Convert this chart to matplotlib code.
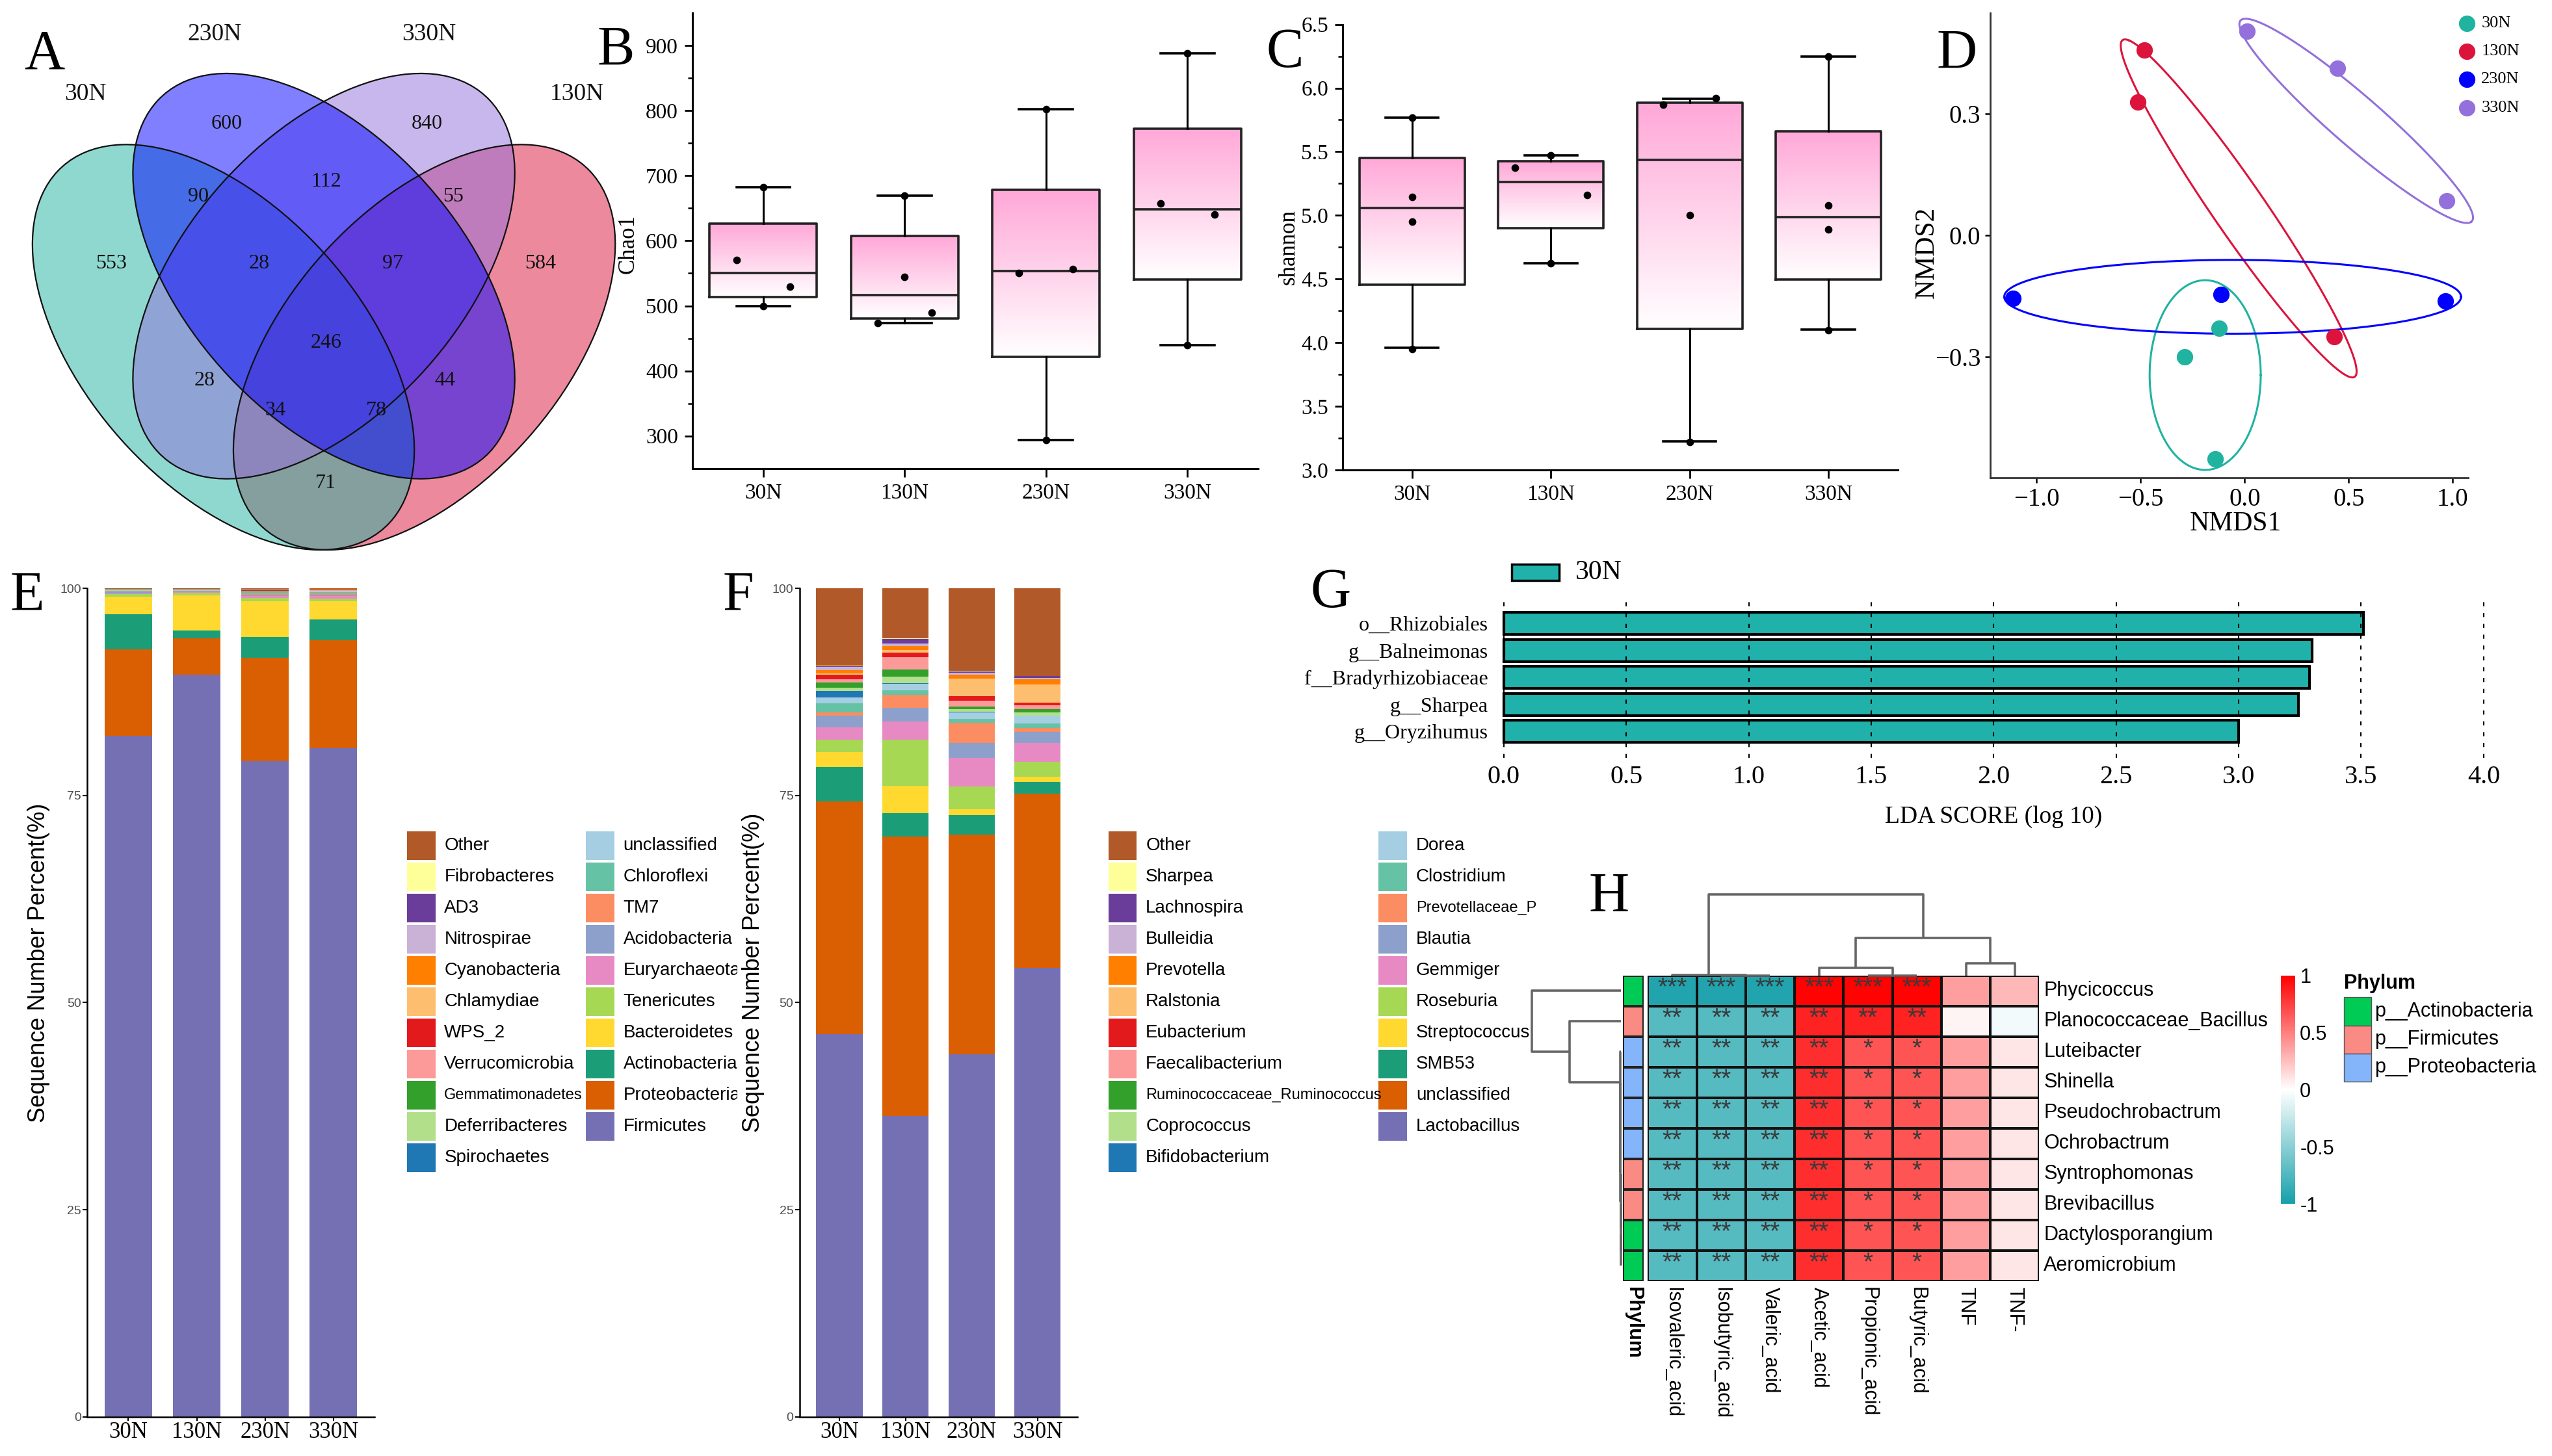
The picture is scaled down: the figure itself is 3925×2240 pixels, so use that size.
import numpy as np
import matplotlib
matplotlib.use("Agg")
import matplotlib.pyplot as plt
from matplotlib import font_manager
from matplotlib.patches import Ellipse, Rectangle
from matplotlib.colors import LinearSegmentedColormap, ListedColormap
from matplotlib.transforms import Bbox, TransformedBbox

SERIF = ["Liberation Serif", "DejaVu Serif"]
SANS = ["Liberation Sans", "DejaVu Sans"]
installed = {f.name for f in font_manager.fontManager.ttflist}
if "Liberation Sans Narrow" in installed:
    NARROW, NARROW_SIZE = ["Liberation Sans Narrow", "Liberation Sans"], 25
else:
    NARROW, NARROW_SIZE = SANS, 22
plt.rcParams["font.family"] = SERIF

# ---------------- data ----------------
groups = ["30N", "130N", "230N", "330N"]
group_colors = ["#1FB3A0", "#DC143C", "#0000FF", "#9370DB"]

# A: Venn (region counts)
venn_sets = ["30N", "230N", "330N", "130N"]
venn_counts = [553, 600, 840, 584, 90, 112, 55, 28, 97, 246, 28, 44, 34, 78, 71]

# B: Chao1 box statistics and samples
chao1_lo = [500, 474, 294, 440]
chao1_q1 = [514, 481, 422, 540]
chao1_med = [550, 517, 553, 648]
chao1_q3 = [626, 607, 678, 772]
chao1_hi = [682, 669, 802, 888]
chao1_pts = [[682, 570, 529, 500], [669, 544, 490, 474],
             [802, 550, 556, 294], [888, 657, 640, 440]]
chao1_jit = [[0, -0.19, 0.19, 0], [0, 0, 0.19, -0.19],
             [0, -0.19, 0.19, 0], [0, -0.19, 0.19, 0]]

# C: Shannon
sh_lo = [3.96, 4.625, 3.228, 4.103]
sh_q1 = [4.456, 4.90, 4.11, 4.495]
sh_med = [5.056, 5.265, 5.435, 4.986]
sh_q3 = [5.453, 5.424, 5.886, 5.662]
sh_hi = [5.766, 5.474, 5.918, 6.25]
sh_pts = [[5.77, 5.145, 4.95, 3.95], [5.47, 5.375, 5.158, 4.625],
          [5.87, 5.92, 5.00, 3.22], [6.25, 5.08, 4.89, 4.10]]
sh_jit = [[0, 0, 0, 0], [0, -0.26, 0.26, 0],
          [-0.19, 0.19, 0, 0], [0, 0, 0, 0]]

# D: NMDS
nmds_x = [[-0.122, -0.288, -0.142], [-0.482, -0.513, 0.431],
          [-1.114, -0.115, 0.966], [0.010, 0.447, 0.972]]
nmds_y = [[-0.229, -0.300, -0.551], [0.456, 0.328, -0.251],
          [-0.155, -0.146, -0.162], [0.503, 0.412, 0.085]]
ell_center = [(-0.190, -0.345), (-0.029, 0.066), (-0.058, -0.152), (0.536, 0.282)]
ell_u = [(0.267, 0.0), (-0.525, 0.414), (1.098, 0.0), (0.553, -0.249)]
ell_v = [(0.0, 0.234), (0.214, -0.049), (0.0, 0.091), (0.098, 0.038)]

# E / F: stacked composition, listed bottom-up
stack_colors = ["#7570B3", "#D95F02", "#1B9E77", "#FFD92F", "#A6D854", "#E78AC3",
                "#8DA0CB", "#FC8D62", "#66C2A5", "#A6CEE3", "#1F78B4", "#B2DF8A",
                "#33A02C", "#FB9A99", "#E31A1C", "#FDBF6F", "#FF7F00", "#CAB2D6",
                "#6A3D9A", "#FFFF99", "#B15928"]
phylum_names = ["Firmicutes", "Proteobacteria", "Actinobacteria", "Bacteroidetes",
                "Tenericutes", "Euryarchaeota", "Acidobacteria", "TM7", "Chloroflexi",
                "unclassified", "Spirochaetes", "Deferribacteres", "Gemmatimonadetes",
                "Verrucomicrobia", "WPS_2", "Chlamydiae", "Cyanobacteria", "Nitrospirae",
                "AD3", "Fibrobacteres", "Other"]
phylum_30N = [82.2, 10.4, 4.3, 2.1, 0.30, 0.10, 0.10, 0.08, 0.08, 0.10, 0.02,
              0.02, 0.02, 0.02, 0.01, 0.01, 0.02, 0.01, 0.01, 0.01, 0.09]
phylum_130N = [89.6, 4.35, 0.95, 4.2, 0.35, 0.08, 0.08, 0.05, 0.05, 0.08, 0.02,
               0.02, 0.02, 0.02, 0.01, 0.01, 0.01, 0.01, 0.01, 0.01, 0.07]
phylum_230N = [79.1, 12.5, 2.5, 4.3, 0.40, 0.25, 0.20, 0.15, 0.10, 0.10, 0.02,
               0.02, 0.05, 0.03, 0.02, 0.03, 0.03, 0.02, 0.02, 0.01, 0.15]
phylum_330N = [80.7, 13.0, 2.5, 2.2, 0.35, 0.30, 0.20, 0.15, 0.10, 0.15, 0.02,
               0.02, 0.03, 0.03, 0.02, 0.02, 0.02, 0.02, 0.02, 0.01, 0.14]

genus_names = ["Lactobacillus", "unclassified", "SMB53", "Streptococcus", "Roseburia",
               "Gemmiger", "Blautia", "Prevotellaceae_P", "Clostridium", "Dorea",
               "Bifidobacterium", "Coprococcus", "Ruminococcaceae_Ruminococcus",
               "Faecalibacterium", "Eubacterium", "Ralstonia", "Prevotella", "Bulleidia",
               "Lachnospira", "Sharpea", "Other"]
genus_30N = [46.2, 28.1, 4.1, 1.85, 1.5, 1.5, 1.4, 0.4, 1.1, 0.7, 0.75,
             0.4, 0.6, 0.4, 0.6, 0.1, 0.45, 0.35, 0.1, 0.05, 9.35]
genus_130N = [36.3, 33.7, 2.9, 3.25, 5.6, 2.15, 1.7, 1.5, 0.6, 0.8, 0.05,
              0.8, 0.85, 1.5, 0.5, 0.35, 0.45, 0.3, 0.55, 0.1, 6.05]
genus_230N = [43.8, 26.5, 2.3, 0.75, 2.75, 3.4, 1.8, 2.5, 0.45, 0.8, 0.05,
              0.3, 0.35, 0.65, 0.6, 2.1, 0.45, 0.25, 0.2, 0.05, 9.95]
genus_330N = [54.2, 21.0, 1.45, 0.6, 1.8, 2.3, 1.35, 0.4, 0.6, 0.9, 0.05,
              0.35, 0.4, 0.45, 0.35, 2.2, 0.6, 0.2, 0.2, 0.05, 10.55]

# G: LEfSe
lda_features = ["o__Rhizobiales", "g__Balneimonas", "f__Bradyrhizobiaceae",
                "g__Sharpea", "g__Oryzihumus"]
lda_scores = [3.51, 3.30, 3.29, 3.245, 3.00]

# H: correlation heatmap
heat_rows = ["Phycicoccus", "Planococcaceae_Bacillus", "Luteibacter", "Shinella",
             "Pseudochrobactrum", "Ochrobactrum", "Syntrophomonas", "Brevibacillus",
             "Dactylosporangium", "Aeromicrobium"]
heat_cols = ["Isovaleric_acid", "Isobutyric_acid", "Valeric_acid", "Acetic_acid",
             "Propionic_acid", "Butyric_acid", "TNF", "TNF-"]
heat_vals = [[-0.95, -0.95, -0.95, 0.99, 0.99, 0.99, 0.38, 0.28],
             [-0.72, -0.72, -0.72, 0.86, 0.86, 0.86, 0.04, -0.05]] + \
            [[-0.72, -0.72, -0.72, 0.82, 0.67, 0.67, 0.38, 0.10]] * 8
heat_stars = [["***"] * 6 + ["", ""], ["**"] * 6 + ["", ""]] + \
             [["**"] * 4 + ["*", "*", "", ""]] * 8
row_phylum = ["p__Actinobacteria", "p__Firmicutes"] + ["p__Proteobacteria"] * 4 + \
             ["p__Firmicutes"] * 2 + ["p__Actinobacteria"] * 2
phylum_levels = ["p__Actinobacteria", "p__Firmicutes", "p__Proteobacteria"]
phylum_colors = ["#00CC55", "#FA8A84", "#84B4FA"]
# (child a, child b, height); leaves first, new nodes numbered after
col_merges = [(1, 2, 0.5), (0, 8, 1.0), (4, 5, 0.5), (3, 10, 20),
              (6, 7, 33), (11, 12, 100), (9, 13, 215)]
row_merges = [(8, 9, 0.5), (7, 10, 1.0), (6, 11, 1.5), (5, 12, 2.0), (4, 13, 2.5),
              (3, 14, 3.0), (2, 15, 3.5), (1, 16, 215), (0, 17, 373)]

# ---------------- layout helpers ----------------
fig = plt.figure(figsize=(39.25, 22.4), dpi=100)
W, H = 1568.0, 895.0


def box(x0, y0, x1, y1):
    return [x0 / W, 1 - y1 / H, (x1 - x0) / W, (y1 - y0) / H]


def style_spines(ax, lw=2.2, color="black"):
    ax.spines[["top", "right"]].set_visible(False)
    for s in ["left", "bottom"]:
        ax.spines[s].set_linewidth(lw)
        ax.spines[s].set_color(color)


# ---------------- A: Venn ----------------
ax = fig.add_axes(box(15, 15, 385, 345))
ax.set_xlim(0.053, 0.952)
ax.set_ylim(0.169, 0.924)
ax.axis("off")
venn_shape = {"30N": (0.35, 0.47, -45), "230N": (0.50, 0.57, -45),
              "330N": (0.50, 0.57, 45), "130N": (0.65, 0.47, 45)}
venn_col = dict(zip(groups, group_colors))
for s in ["130N", "30N", "330N", "230N"]:
    cx, cy, ang = venn_shape[s]
    ax.add_patch(Ellipse((cx, cy), 0.70, 0.40, angle=ang, facecolor=venn_col[s],
                         alpha=0.5, edgecolor="none"))
for s in venn_sets:
    cx, cy, ang = venn_shape[s]
    ax.add_patch(Ellipse((cx, cy), 0.70, 0.40, angle=ang, facecolor="none",
                         edgecolor="#111111", lw=1.6))
venn_label_xy = [(0.183, 0.588), (0.355, 0.784), (0.654, 0.784), (0.823, 0.588),
                 (0.313, 0.682), (0.503, 0.703), (0.693, 0.682), (0.403, 0.588),
                 (0.603, 0.588), (0.503, 0.476), (0.322, 0.423), (0.681, 0.423),
                 (0.428, 0.381), (0.578, 0.381), (0.503, 0.279)]
for n, (x, y) in zip(venn_counts, venn_label_xy):
    ax.text(x, y, str(n), ha="center", va="center", fontsize=23, color="#111111")
venn_set_xy = [(0.144, 0.826), (0.337, 0.910), (0.657, 0.910), (0.878, 0.826)]
for s, (x, y) in zip(venn_sets, venn_set_xy):
    ax.text(x, y, s, ha="center", va="center", fontsize=27, color="#111111")

# ---------------- B / C: box plots ----------------
pink = LinearSegmentedColormap.from_list("pk", ["#FFFFFF", "#FFA8D8"])
grad = np.linspace(0, 1, 256).reshape(-1, 1)


def box_panel(ax, lo, q1, med, q3, hi, pts, jit):
    stats = [dict(whislo=a, q1=b, med=c, q3=d, whishi=e)
             for a, b, c, d, e in zip(lo, q1, med, q3, hi)]
    ax.bxp(stats, positions=range(4), widths=0.76, capwidths=0.38,
           showfliers=False, manage_ticks=False,
           boxprops=dict(color="#222222", lw=2.6),
           medianprops=dict(color="#222222", lw=2.6),
           whiskerprops=dict(color="black", lw=2.2),
           capprops=dict(color="black", lw=2.6))
    for i in range(4):
        ax.imshow(grad, extent=(i - 0.38, i + 0.38, q1[i], q3[i]), origin="lower",
                  cmap=pink, aspect="auto", zorder=1)
        ax.scatter(np.array(jit[i]) + i, pts[i], s=55, color="black", zorder=4)
    ax.set_xlim(-0.5, 3.5)
    ax.set_xticks(range(4))
    ax.set_xticklabels(groups)
    style_spines(ax)
    ax.tick_params(which="major", direction="out", length=9, width=2,
                   labelsize=24, pad=7)
    ax.tick_params(which="minor", direction="out", length=5, width=1.8)


ax = fig.add_axes(box(425.5, 8, 773, 288))
box_panel(ax, chao1_lo, chao1_q1, chao1_med, chao1_q3, chao1_hi, chao1_pts, chao1_jit)
ax.set_ylim(250, 950)
ax.set_yticks(np.arange(300, 901, 100))
ax.set_yticks(np.arange(350, 900, 100), minor=True)

ax = fig.add_axes(box(825, 15, 1166, 289))
box_panel(ax, sh_lo, sh_q1, sh_med, sh_q3, sh_hi, sh_pts, sh_jit)
ax.set_ylim(3.0, 6.5)
yt = np.arange(3.0, 6.51, 0.5)
ax.set_yticks(yt)
ax.set_yticklabels([f"{v:.1f}" for v in yt])
ax.set_yticks(np.arange(3.25, 6.5, 0.5), minor=True)

# ---------------- D: NMDS ----------------
ax = fig.add_axes(box(1223, 8, 1516.6, 293.6))
t = np.linspace(0, 2 * np.pi, 400)
for k, col in enumerate(group_colors):
    c, u, v = ell_center[k], ell_u[k], ell_v[k]
    ax.plot(c[0] + u[0] * np.cos(t) + v[0] * np.sin(t),
            c[1] + u[1] * np.cos(t) + v[1] * np.sin(t), color=col, lw=2.2, zorder=2,
            clip_on=False)
    ax.scatter(nmds_x[k], nmds_y[k], s=330, color=col, linewidths=0, zorder=3)
ax.set_xlim(-1.222, 1.075)
ax.set_ylim(-0.598, 0.548)
xt = [-1.0, -0.5, 0.0, 0.5, 1.0]
ytd = [-0.3, 0.0, 0.3]
ax.set_xticks(xt)
ax.set_xticklabels([f"{v:.1f}".replace("-", "\u2212") for v in xt])
ax.set_yticks(ytd)
ax.set_yticklabels([f"{v:.1f}".replace("-", "\u2212") for v in ytd])
style_spines(ax, lw=2.0, color="#333333")
ax.tick_params(direction="out", length=6, width=1.8, labelsize=28, pad=5)

# ---------------- E / F: stacked bars ----------------


def stack_panel(ax, names, series):
    bottom = np.zeros(4)
    for k in range(len(names)):
        vals = np.array([s[k] for s in series])
        ax.bar(range(4), vals, 0.7, bottom=bottom, color=stack_colors[k], lw=0)
        bottom += vals
    ax.set_xlim(-0.6, 3.6)
    ax.set_ylim(0, 100)
    ax.set_yticks([0, 25, 50, 75, 100])
    ax.set_xticks(range(4))
    ax.set_xticklabels(groups, fontsize=25, family=SERIF)
    style_spines(ax, lw=1.8)
    ax.tick_params(axis="y", direction="out", length=5, width=1.5, labelsize=14,
                   labelcolor="#4D4D4D", pad=2)
    ax.tick_params(axis="x", direction="out", length=4, width=1.5, pad=1)
    for lab in ax.get_yticklabels():
        lab.set_family(SANS)


ax = fig.add_axes(box(53.7, 361.6, 230, 871))
stack_panel(ax, phylum_names, [phylum_30N, phylum_130N, phylum_230N, phylum_330N])
ax = fig.add_axes(box(491.4, 361.6, 661.9, 871))
stack_panel(ax, genus_names, [genus_30N, genus_130N, genus_230N, genus_330N])

# ---------------- G: LDA ----------------
ax = fig.add_axes(box(920, 369, 1530, 466))
ax.barh(range(5), lda_scores, height=0.82, color="#20B2AA", edgecolor="black",
        lw=3, zorder=2)
ax.set_xlim(-0.0266, 4.0266)
ax.set_ylim(4.99, -0.855)
gx = np.arange(0, 4.01, 0.5)
ax.set_xticks(gx)
ax.set_xticklabels([f"{v:.1f}" for v in gx])
ax.set_yticks(range(5))
ax.set_yticklabels(lda_features)
ax.tick_params(axis="x", length=0, labelsize=29, pad=8)
ax.tick_params(axis="y", length=0, labelsize=23, pad=10)
ax.grid(axis="x", color="black", linestyle=(0, (3, 5)), lw=1.5)
ax.set_axisbelow(False)
for sp in ax.spines.values():
    sp.set_visible(False)

# ---------------- H: heatmap ----------------
heat_cmap = LinearSegmentedColormap.from_list("tw", ["#16A0AA", "#FFFFFF", "#FF0000"])
axh = fig.add_axes(box(1012.4, 599.7, 1253, 787.5))
mesh = axh.pcolormesh(np.arange(9), np.arange(11), np.array(heat_vals), cmap=heat_cmap,
                      vmin=-1, vmax=1, edgecolors="#111111", linewidth=1.6)
axh.set_xlim(0, 8)
axh.set_ylim(10, 0)
axh.axis("off")
for i in range(10):
    for j in range(8):
        if heat_stars[i][j]:
            axh.text(j + 0.5, i + 0.42, heat_stars[i][j], ha="center", va="center",
                     fontsize=28, color="#3A3A3A", family=SANS)
    axh.text(8.09, i + 0.5, heat_rows[i], ha="left", va="center",
             fontsize=NARROW_SIZE, family=NARROW, clip_on=False)
for j in range(8):
    axh.text(j + 0.5, 10.19, heat_cols[j], ha="center", va="top", rotation=270,
             fontsize=NARROW_SIZE, family=NARROW, clip_on=False)

axa = fig.add_axes(box(997.2, 599.7, 1010, 787.5))
codes = np.array([[phylum_levels.index(p)] for p in row_phylum])
axa.pcolormesh(np.arange(2), np.arange(11), codes, cmap=ListedColormap(phylum_colors),
               vmin=-0.5, vmax=2.5, edgecolors="#222222", linewidth=1.6)
axa.set_xlim(0, 1)
axa.set_ylim(10, 0)
axa.axis("off")
axa.text(0.5, 10.19, "Phylum", ha="center", va="top", rotation=270, fontsize=NARROW_SIZE,
         family=NARROW, fontweight="bold", clip_on=False)


def dendro(ax, merges, n, top):
    pos = {i: i + 0.5 for i in range(n)}
    hgt = {i: 0.0 for i in range(n)}
    for k, (a, b, h) in enumerate(merges):
        pa, pb = pos[a], pos[b]
        xs, ys = [pa, pa, pb, pb], [hgt[a], h, h, hgt[b]]
        if not top:
            xs, ys = ys, xs
        ax.plot(xs, ys, color="#666666", lw=2.6, clip_on=False,
                solid_capstyle="butt")
        pos[n + k] = (pa + pb) / 2
        hgt[n + k] = h


axr = fig.add_axes(box(941, 599.7, 996, 787.5))
dendro(axr, row_merges, 10, top=False)
axr.set_xlim(373, 0)
axr.set_ylim(10, 0)
axr.axis("off")

axc = fig.add_axes(box(1012.4, 549.9, 1253, 599.7))
dendro(axc, col_merges, 8, top=True)
axc.set_xlim(0, 8)
axc.set_ylim(0, 215)
axc.axis("off")

cax = fig.add_axes(box(1401.5, 599.7, 1410.3, 740))
cb = fig.colorbar(mesh, cax=cax, ticks=[-1, -0.5, 0, 0.5, 1])
cb.outline.set_visible(False)
cb.ax.set_yticklabels(["-1", "-0.5", "0", "0.5", "1"])
cb.ax.tick_params(length=0, labelsize=22, pad=5)
for lab in cb.ax.get_yticklabels():
    lab.set_family(NARROW)

# ---------------- overlay: letters, labels, legends ----------------
ov = fig.add_axes([0, 0, 1, 1], zorder=10)
ov.set_xlim(0, W)
ov.set_ylim(H, 0)
ov.axis("off")

for letter, x, y in [("A", 15, 42), ("B", 367, 40), ("C", 778, 41), ("D", 1190, 42),
                     ("E", 6, 375), ("F", 444, 375), ("G", 805, 373), ("H", 976, 560)]:
    ov.text(x, y, letter, fontsize=62, ha="left", va="baseline", family=SERIF)

ov.text(386, 150, "Chao1", rotation=90, ha="center", va="center", fontsize=25)
ov.text(791.7, 152, "shannon", rotation=90, ha="center", va="center", fontsize=25)
ov.text(1184, 155, "NMDS2", rotation=90, ha="center", va="center", fontsize=30)
ov.text(1373.6, 322, "NMDS1", ha="center", va="center", fontsize=30)
ov.text(23.6, 592, "Sequence Number Percent(%)", rotation=90, ha="center",
        va="center", fontsize=26, family=SANS)
ov.text(462.7, 598, "Sequence Number Percent(%)", rotation=90, ha="center",
        va="center", fontsize=26, family=SANS)
ov.text(1225, 502, "LDA SCORE (log 10)", ha="center", va="center", fontsize=27)

# D legend
for k, g in enumerate(groups):
    y = 14.3 + 17.3 * k
    ov.scatter([1515.8], [y], s=330, color=group_colors[k], linewidths=0)
    ov.text(1524.6, y, g, ha="left", va="center", fontsize=19)

# E / F legends (two columns, legend order = reversed stack order)
small_labels = {"Gemmatimonadetes", "Ruminococcaceae_Ruminococcus", "Prevotellaceae_P"}


def swatch_legend(names, col_x, clip_right):
    order = list(reversed(range(len(names))))
    clip = TransformedBbox(Bbox([[0, 0], [clip_right, H]]), ov.transData)
    for r, k in enumerate(order):
        col, row = divmod(r, 11)
        x, y = col_x[col], 520 + 19.15 * row
        ov.add_patch(Rectangle((x, y - 8.8), 17.5, 17.6, facecolor=stack_colors[k],
                               edgecolor="none"))
        txt = ov.text(x + 23, y, names[k], ha="left", va="center", family=SANS,
                      fontsize=17 if names[k] in small_labels else 20)
        txt.set_clip_box(clip)
        txt.set_clip_on(True)


swatch_legend(phylum_names, [250, 360], 453)
swatch_legend(genus_names, [681, 847], 950)

# G legend
ov.add_patch(Rectangle((929, 347), 29, 10, facecolor="#20B2AA", edgecolor="black", lw=2.5))
ov.text(968, 352, "30N", ha="left", va="center", fontsize=30)

# H phylum legend
ov.text(1440, 604.6, "Phylum", ha="left", va="center", fontsize=NARROW_SIZE,
        family=NARROW, fontweight="bold")
for k, (lev, col) in enumerate(zip(phylum_levels, phylum_colors)):
    y0 = 613 + 17.3 * k
    ov.add_patch(Rectangle((1440, y0), 17, 17.3, facecolor=col, edgecolor="#555555", lw=1))
    ov.text(1459, y0 + 8.6, lev, ha="left", va="center", fontsize=NARROW_SIZE, family=NARROW)

fig.savefig("out.png", dpi=100)
